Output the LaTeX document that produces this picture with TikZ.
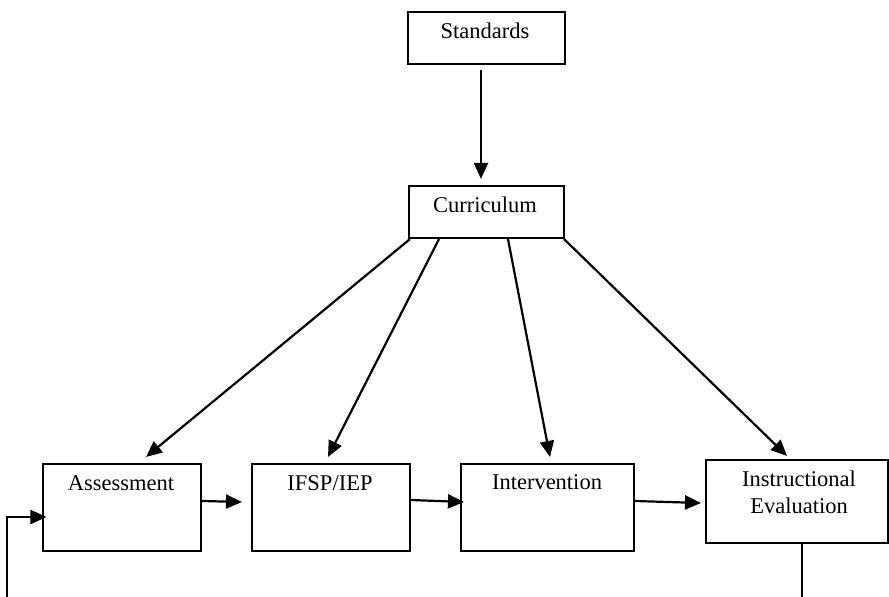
\documentclass[tikz,border=0pt]{standalone}
\usepackage{fontspec}
\setmainfont{Liberation Serif}
\usetikzlibrary{arrows.meta}
\begin{document}
\begin{tikzpicture}[x=1pt,y=-1pt,
  box/.style={draw=black,line width=2.1pt,fill=white,inner sep=0pt},
  lbl/.style={anchor=base,inner sep=0pt,font=\fontsize{22.5}{27}\selectfont},
  arr/.style={line width=2.2pt,-{Triangle[length=16pt,width=14pt]}},
  ln/.style={line width=2.2pt}]
\useasboundingbox (0,0) rectangle (889,597);
% boxes
\node[box,minimum width=157pt,minimum height=52pt] (std) at (486.5,38) {};
\node[box,minimum width=155pt,minimum height=52pt] (cur) at (486.5,212) {};
\node[box,minimum width=158pt,minimum height=87pt] (ass) at (122,507.5) {};
\node[box,minimum width=158pt,minimum height=87pt] (ifsp) at (331,507.5) {};
\node[box,minimum width=173pt,minimum height=87pt] (int) at (547.5,507.5) {};
\node[box,minimum width=182pt,minimum height=83pt] (ie) at (797,501.5) {};
% labels
\node[lbl] (tstd) at (485,38) {Standards};
\node[lbl] (tcur) at (485,212) {Curriculum};
\node[lbl] (tass) at (121,490) {Assessment};
\node[lbl] (tifsp) at (330,490) {IFSP/IEP};
\node[lbl] (tint) at (547,489) {Intervention};
\node[lbl] (tie1) at (799,486) {Instructional};
\node[lbl] (tie2) at (799,513) {Evaluation};
% vertical arrow
\draw[arr] ([xshift=-5.5pt,yshift=-5pt]std.south) -- ([xshift=-5.5pt,yshift=6pt]cur.north);
% diagonals
\draw[arr] ([xshift=-76.5pt]cur.south) -- ([xshift=24pt,yshift=6pt]ass.north);
\draw[arr] ([xshift=-47.5pt]cur.south) -- ([xshift=-3pt,yshift=6pt]ifsp.north);
\draw[arr] ([xshift=21.5pt]cur.south) -- ([xshift=2.5pt,yshift=6pt]int.north);
\draw[arr] ([xshift=77.5pt]cur.south) -- ([xshift=-10pt,yshift=3pt]ie.north);
% horizontal arrows
\draw[arr] ([yshift=6.5pt]ass.east) -- ([xshift=-9pt,yshift=5.5pt]ifsp.west);
\draw[arr] ([yshift=7.5pt]ifsp.east) -- ([xshift=4pt,yshift=5.5pt]int.west);
\draw[arr] ([yshift=6.5pt]int.east) -- ([xshift=-4pt,yshift=-1.5pt]ie.west);
% feedback loop
\coordinate (fbR) at (802,600);
\coordinate (fbL) at (7.3,600);
\coordinate (fbC) at (7.3,517);
\draw[ln] ([xshift=5pt]ie.south) -- (fbR);
\draw[arr] (fbL) -- (fbC) -- ([xshift=4.5pt,yshift=-9.5pt]ass.west);
\end{tikzpicture}
\end{document}
